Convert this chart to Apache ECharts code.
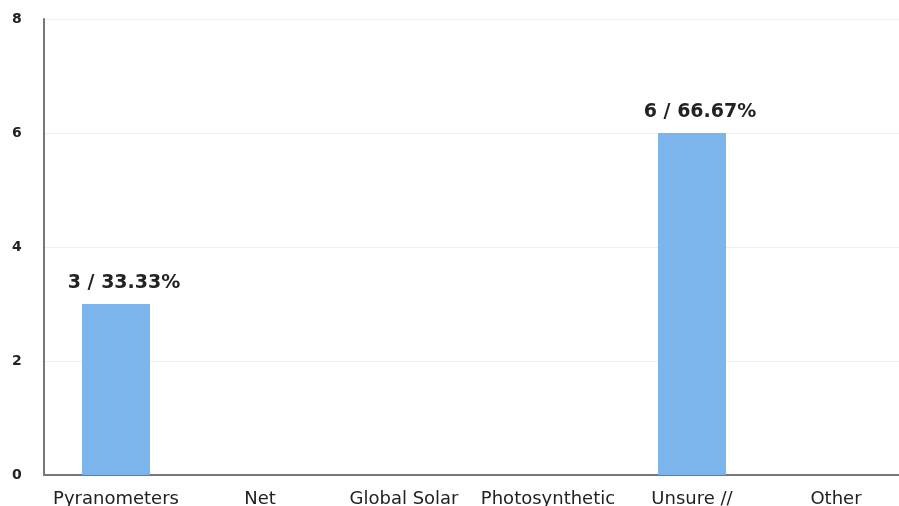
<!DOCTYPE html>
<html>
<head>
<meta charset="utf-8">
<script src="https://cdn.jsdelivr.net/npm/echarts@6/dist/echarts.min.js"></script>
<style>html,body{margin:0;padding:0;background:#fff;overflow:hidden;}#c{width:908px;height:506px;}</style>
</head>
<body>
<div id="c"></div>
<script>
var categories = ["Pyranometers", "Net", "Global Solar", "Photosynthetic", "Unsure //", "Other"];
var counts = [3, 0, 0, 0, 6, 0];
var percents = ["33.33%", "0%", "0%", "0%", "66.67%", "0%"];
var yTicks = [0, 2, 4, 6, 8];

var chart = echarts.init(document.getElementById('c'));
chart.setOption({
  animation: false,
  grid: {left: 44, top: 19, right: 0, bottom: 31, containLabel: false, outerBoundsMode: 'none'},
  xAxis: {
    type: 'category',
    data: categories,
    axisLine: {lineStyle: {color: '#777', width: 2}},
    axisTick: {show: false},
    axisLabel: {color: '#222', fontFamily: 'DejaVu Sans', fontSize: 18, margin: 15, interval: 0}
  },
  yAxis: {
    type: 'value',
    min: yTicks[0], max: yTicks[yTicks.length - 1], interval: 2,
    axisLine: {show: true, lineStyle: {color: '#777', width: 2}},
    axisTick: {show: false},
    splitLine: {lineStyle: {color: '#eeeeee'}},
    axisLabel: {color: '#222', fontFamily: 'DejaVu Sans', fontSize: 14, fontWeight: 'bold', margin: 32, align: 'left'}
  },
  series: [{
    type: 'bar',
    data: counts,
    barWidth: 68,
    itemStyle: {color: '#7cb5ec'},
    label: {
      show: true,
      position: 'top',
      distance: 11,
      offset: [8, 0],
      fontFamily: 'DejaVu Sans',
      fontSize: 19,
      fontWeight: 'bold',
      color: '#222',
      formatter: function (p) { return p.value > 0 ? p.value + ' / ' + percents[p.dataIndex] : ''; }
    }
  }]
});
</script>
</body>
</html>
